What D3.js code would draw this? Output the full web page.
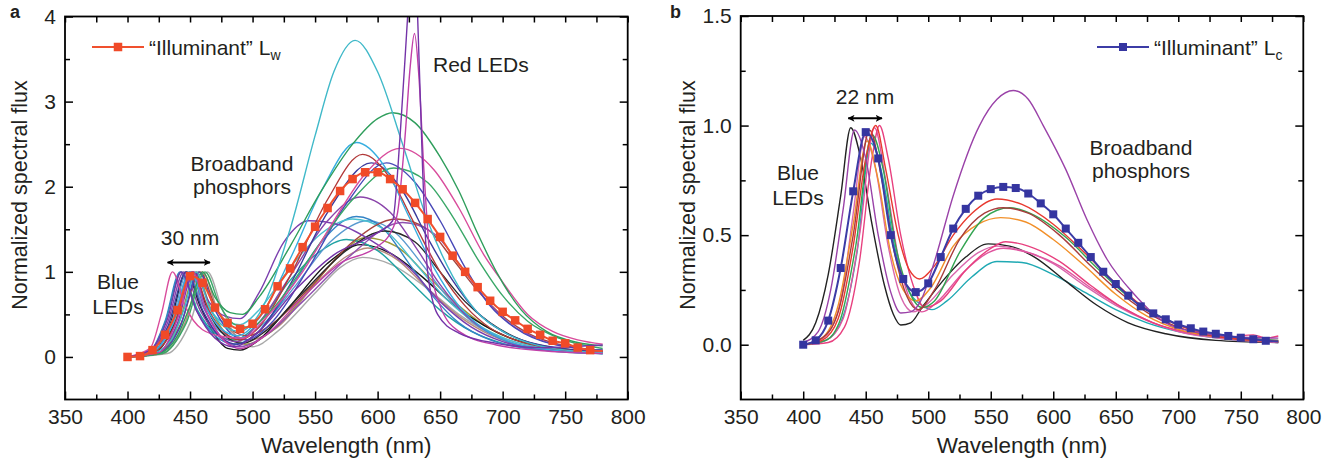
<!DOCTYPE html>
<html>
<head>
<meta charset="utf-8">
<script src="https://cdn.jsdelivr.net/npm/d3@7"></script>
<style>
body { margin: 0; background: #fff; }
text { font-family: "Liberation Sans", Arial, sans-serif; fill: #231f20; }
</style>
</head>
<body>
<svg width="1334" height="461"></svg>
<script>
// ---- data: [wavelength nm, normalized flux] ----
const xTicks = [350, 400, 450, 500, 550, 600, 650, 700, 750, 800];
const yTicksA = [0, 1, 2, 3, 4];
const yTicksB = [0, 0.5, 1.0, 1.5];

const illumWavelengths = [400,410,420,430,440,450,460,470,480,490,500,510,520,530,540,550,560,570,580,590,600,610,620,630,640,650,660,670,680,690,700,710,720,730,740,750,760,770,780];
const lwFlux = [0,0.01,0.08,0.26,0.55,0.95,0.87,0.58,0.40,0.33,0.39,0.56,0.83,1.04,1.29,1.53,1.75,1.95,2.09,2.17,2.17,2.09,1.97,1.81,1.62,1.41,1.19,1.00,0.82,0.66,0.53,0.43,0.33,0.26,0.19,0.16,0.11,0.08,0.07];
const lcFlux = [0,0.02,0.11,0.35,0.70,0.97,0.85,0.50,0.30,0.24,0.28,0.40,0.53,0.62,0.68,0.71,0.72,0.715,0.69,0.645,0.595,0.53,0.465,0.40,0.333,0.277,0.224,0.175,0.143,0.116,0.092,0.075,0.06,0.05,0.04,0.032,0.025,0.018,0.015];

// panel a, individual LEDs
const aCyanTall = [[400,0],[420,0.04],[435,0.2],[445,0.55],[455,1.0],[465,0.6],[478,0.35],[490,0.3],[505,0.5],[530,1.5],[550,2.6],[565,3.35],[582,3.72],[600,3.35],[620,2.5],[640,1.6],[660,0.95],[680,0.52],[700,0.3],[740,0.1],[780,0.05]];
const aGreenTop = [[400,0],[425,0.04],[440,0.25],[450,0.6],[460,1.0],[470,0.7],[482,0.52],[492,0.5],[505,0.7],[530,1.3],[555,1.95],[580,2.5],[600,2.8],[612,2.87],[630,2.75],[650,2.35],[665,1.95],[680,1.45],[695,1.0],[715,0.55],[735,0.3],[760,0.17],[780,0.13]];
const aPink = [[400,0],[418,0.1],[427,0.5],[436,1.0],[446,0.6],[460,0.32],[476,0.24],[492,0.22],[510,0.45],[540,1.0],[565,1.6],[590,2.15],[618,2.45],[645,2.2],[665,1.75],[685,1.2],[700,0.88],[720,0.5],[740,0.3],[760,0.2],[780,0.15]];
const aCyan2 = [[400,0],[420,0.06],[435,0.35],[450,1.0],[462,0.6],[475,0.33],[488,0.25],[505,0.45],[530,1.15],[555,1.95],[583,2.52],[605,2.25],[625,1.65],[645,1.05],[665,0.6],[685,0.33],[705,0.18],[740,0.08],[780,0.04]];
const aDarkRed = [[400,0],[420,0.05],[437,0.35],[452,1.0],[465,0.55],[478,0.28],[490,0.2],[505,0.35],[530,0.95],[560,1.85],[588,2.38],[610,2.1],[630,1.55],[650,1.0],[670,0.6],[690,0.34],[710,0.2],[745,0.09],[780,0.05]];
const aNavy = [[400,0],[418,0.05],[432,0.35],[447,1.0],[460,0.55],[475,0.22],[488,0.15],[505,0.3],[530,0.85],[560,1.7],[595,2.28],[620,1.95],[640,1.4],[660,0.9],[680,0.52],[700,0.3],[730,0.14],[780,0.06]];
const aNavy2 = [[400,0],[425,0.04],[442,0.35],[457,1.0],[470,0.55],[483,0.27],[495,0.2],[515,0.4],[545,1.05],[575,1.8],[607,2.28],[630,2.05],[650,1.6],[670,1.05],[690,0.6],[710,0.34],[740,0.15],[780,0.08]];
const aGreen2 = [[400,0],[428,0.04],[447,0.4],[462,1.0],[474,0.6],[486,0.38],[497,0.35],[515,0.55],[545,1.15],[580,1.85],[613,2.22],[640,2.05],[660,1.65],[680,1.15],[700,0.72],[720,0.42],[745,0.22],[780,0.1]];
const aPurpleMid = [[400,0],[418,0.06],[432,0.4],[445,1.0],[458,0.55],[472,0.27],[487,0.18],[505,0.4],[530,0.95],[560,1.6],[586,1.88],[610,1.7],[630,1.3],[650,0.85],[670,0.5],[690,0.28],[720,0.12],[780,0.05]];
const aPurpleEarly = [[400,0],[425,0.05],[440,0.4],[453,1.0],[465,0.65],[478,0.48],[490,0.45],[505,0.75],[525,1.35],[545,1.6],[570,1.55],[600,1.32],[625,1.05],[650,0.65],[675,0.35],[700,0.18],[740,0.08],[780,0.05]];
const aPurpleRed = [[400,0],[418,0.08],[432,0.45],[443,1.0],[455,0.55],[470,0.22],[485,0.12],[505,0.3],[535,0.8],[565,1.2],[595,1.42],[612,1.6],[618,2.6],[624,4.0],[628,4.9],[632,4.0],[636,2.2],[640,1.0],[648,0.5],[665,0.28],[695,0.16],[730,0.11],[780,0.14]];
const aMagentaRed = [[400,0],[425,0.05],[440,0.45],[452,1.0],[464,0.5],[478,0.18],[490,0.1],[510,0.25],[540,0.7],[570,1.1],[600,1.3],[610,1.45],[616,1.7],[622,2.6],[626,3.4],[629.5,3.8],[633,3.3],[637,2.2],[642,1.14],[650,0.6],[665,0.3],[695,0.14],[735,0.07],[780,0.04]];
const aBlue = [[400,0],[418,0.07],[430,0.42],[442,1.0],[455,0.55],[470,0.25],[486,0.15],[505,0.3],[530,0.8],[555,1.35],[583,1.65],[605,1.5],[625,1.1],[645,0.7],[665,0.4],[690,0.2],[720,0.1],[780,0.04]];
const aSteel = [[400,0],[420,0.05],[435,0.4],[448,1.0],[460,0.6],[474,0.3],[489,0.22],[508,0.38],[535,0.85],[562,1.35],[592,1.6],[615,1.45],[635,1.1],[655,0.72],[675,0.42],[700,0.2],[735,0.08],[780,0.04]];
const aWine = [[400,0],[425,0.04],[443,0.4],[458,1.0],[470,0.6],[483,0.32],[496,0.25],[515,0.38],[545,0.8],[580,1.35],[615,1.62],[640,1.5],[660,1.15],[680,0.78],[700,0.48],[720,0.28],[750,0.13],[780,0.08]];
const aPurple2 = [[400,0],[420,0.05],[436,0.4],[450,1.0],[462,0.55],[476,0.22],[490,0.12],[510,0.25],[540,0.65],[575,1.15],[620,1.58],[645,1.45],[665,1.1],[685,0.7],[705,0.4],[730,0.2],[760,0.1],[780,0.08]];
const aBlack2 = [[400,0],[422,0.05],[438,0.4],[452,1.0],[464,0.55],[478,0.25],[492,0.16],[510,0.3],[540,0.75],[575,1.25],[606,1.48],[630,1.35],[650,1.0],[670,0.65],[690,0.4],[715,0.2],[750,0.09],[780,0.06]];
const aBlack = [[400,0],[420,0.05],[434,0.38],[447,1.0],[458,0.6],[470,0.25],[480,0.1],[490,0.08],[505,0.2],[530,0.6],[560,1.1],[587,1.32],[610,1.22],[635,0.95],[660,0.62],[685,0.37],[710,0.2],[745,0.09],[780,0.05]];
const aOlive = [[400,0],[425,0.04],[441,0.4],[455,1.0],[467,0.55],[481,0.24],[495,0.15],[515,0.3],[545,0.78],[570,1.2],[590,1.4],[615,1.3],[640,0.95],[665,0.6],[690,0.33],[720,0.16],[780,0.06]];
const aGray = [[400,0],[432,0.04],[450,0.4],[464,1.0],[476,0.55],[489,0.2],[500,0.12],[520,0.3],[550,0.75],[570,1.05],[588,1.17],[612,1.08],[640,0.8],[665,0.5],[690,0.28],[720,0.14],[780,0.05]];
const aTan = [[400,0],[428,0.04],[446,0.4],[460,1.0],[472,0.55],[486,0.26],[498,0.2],[520,0.35],[550,0.85],[575,1.18],[592,1.28],[615,1.15],[640,0.8],[665,0.48],[690,0.26],[720,0.12],[780,0.04]];
const aTeal = [[400,0],[418,0.06],[430,0.4],[443,1.0],[456,0.55],[470,0.28],[485,0.2],[505,0.4],[530,0.9],[555,1.25],[575,1.38],[600,1.25],[625,0.9],[650,0.55],[675,0.3],[700,0.16],[740,0.07],[780,0.04]];
const aCyan3 = [[400,0],[422,0.05],[437,0.4],[450,1.0],[462,0.65],[475,0.42],[490,0.38],[505,0.55],[530,1.05],[555,1.45],[580,1.62],[605,1.5],[630,1.1],[655,0.68],[680,0.38],[705,0.2],[740,0.09],[780,0.05]];

const aSpectra = [aGray, aTan, aOlive, aBlack, aTeal, aSteel, aBlue, aCyan3, aWine, aPurple2, aBlack2, aPurpleEarly, aPurpleMid, aNavy, aNavy2, aDarkRed, aGreen2, aCyan2, aPink, aGreenTop, aCyanTall, aMagentaRed, aPurpleRed];
const aColors = ['#a9a9a9', '#b98b7c', '#9d9b3a', '#161616', '#20a3a3', '#5b9bd0', '#3384c6', '#49bfd0', '#a8453f', '#9050b0', '#2a2a2a', '#7b3fae', '#8a44aa', '#3c3c9e', '#4848b8', '#b23a3a', '#3aa868', '#36aee0', '#d94c9c', '#2f9e5c', '#40b9c9', '#c13fa8', '#7433a8'];

// panel b, individual LEDs
const bBlack = [[400,0.02],[410,0.1],[420,0.32],[430,0.68],[438,0.99],[446,0.85],[455,0.55],[465,0.27],[472,0.14],[478,0.09],[486,0.1],[495,0.17],[510,0.28],[530,0.4],[548,0.46],[565,0.45],[585,0.4],[610,0.29],[635,0.18],[660,0.1],[690,0.05],[730,0.02],[780,0.01]];
const bPurple = [[400,0.01],[412,0.06],[422,0.25],[432,0.62],[441,0.98],[450,0.85],[460,0.5],[470,0.24],[478,0.145],[486,0.15],[494,0.2],[505,0.38],[520,0.68],[541,1.0],[555,1.12],[568,1.16],[580,1.12],[592,1.0],[610,0.8],[627,0.57],[643,0.39],[664,0.235],[690,0.1],[717,0.055],[745,0.035],[780,0.03]];
const bRed = [[400,0],[415,0.02],[428,0.12],[440,0.45],[450,0.85],[458,1.0],[466,0.8],[476,0.5],[485,0.34],[493,0.3],[505,0.36],[520,0.5],[535,0.6],[555,0.665],[575,0.64],[600,0.55],[625,0.42],[650,0.28],[675,0.16],[700,0.09],[730,0.04],[780,0.015]];
const bWine = [[400,0],[415,0.03],[428,0.15],[440,0.5],[453,0.98],[463,0.75],[473,0.42],[483,0.22],[492,0.16],[505,0.25],[525,0.48],[545,0.6],[560,0.625],[580,0.6],[605,0.5],[630,0.36],[655,0.23],[680,0.13],[705,0.07],[740,0.03],[780,0.015]];
const bGreen = [[400,0],[418,0.02],[430,0.12],[442,0.45],[455,0.96],[464,0.8],[474,0.45],[485,0.24],[495,0.17],[505,0.2],[525,0.42],[545,0.58],[565,0.625],[585,0.59],[610,0.49],[635,0.35],[660,0.22],[685,0.13],[710,0.07],[745,0.035],[780,0.02]];
const bOrange = [[400,0],[415,0.03],[428,0.18],[440,0.55],[451,0.93],[460,0.75],[470,0.42],[480,0.25],[490,0.2],[502,0.26],[520,0.45],[540,0.55],[558,0.58],[578,0.56],[600,0.48],[625,0.36],[650,0.23],[675,0.13],[700,0.07],[740,0.03],[780,0.015]];
const bPink = [[400,0],[420,0.01],[433,0.08],[445,0.38],[455,0.85],[461,1.0],[468,0.85],[478,0.5],[488,0.27],[497,0.17],[510,0.2],[530,0.34],[550,0.44],[562,0.47],[580,0.45],[605,0.38],[630,0.27],[655,0.17],[680,0.1],[705,0.06],[740,0.035],[760,0.045],[770,0.03],[780,0.04]];
const bPink2 = [[400,0],[418,0.02],[432,0.12],[445,0.5],[457,0.99],[466,0.75],[476,0.4],[486,0.2],[495,0.15],[508,0.2],[528,0.33],[548,0.42],[560,0.44],[580,0.42],[605,0.36],[630,0.26],[655,0.17],[680,0.1],[710,0.05],[780,0.02]];
const bPink3 = [[400,0],[416,0.03],[430,0.2],[440,0.6],[449,0.95],[458,0.8],[468,0.45],[478,0.22],[488,0.15],[500,0.19],[520,0.32],[540,0.42],[555,0.45],[575,0.43],[600,0.37],[625,0.27],[650,0.18],[675,0.11],[700,0.06],[740,0.025],[780,0.01]];
const bTeal = [[400,0],[418,0.02],[430,0.1],[443,0.42],[454,0.92],[463,0.78],[473,0.45],[484,0.25],[495,0.18],[503,0.16],[515,0.2],[535,0.31],[555,0.38],[575,0.375],[600,0.32],[625,0.24],[650,0.16],[675,0.1],[700,0.06],[740,0.025],[780,0.01]];

const bSpectra = [bTeal, bBlack, bPink3, bPink2, bPink, bOrange, bGreen, bWine, bRed, bPurple];
const bColors = ['#1fa9b3', '#222222', '#d867ad', '#e0559f', '#e8407f', '#f2902a', '#33a451', '#a83c3c', '#e8392f', '#9a42a8'];

const svg = d3.select('svg');

const defs = svg.append('defs');
defs.append('marker').attr('id', 'arrow')
    .attr('viewBox', '0 0 10 10').attr('refX', 9).attr('refY', 5)
    .attr('markerWidth', 7).attr('markerHeight', 7).attr('orient', 'auto-start-reverse')
    .attr('markerUnits', 'userSpaceOnUse')
    .append('path').attr('d', 'M0,0 L10,5 L0,10 L2.5,5 z').attr('fill', '#000');

function drawPanel(o) {
    var x = d3.scaleLinear().domain([350, 800]).range(o.xr);
    var y = d3.scaleLinear().domain(o.yd).range([399.5, o.top]);
    var g = svg.append('g');

    defs.append('clipPath').attr('id', o.id + 'clip')
        .append('rect').attr('x', o.xr[0]).attr('y', o.top)
        .attr('width', o.xr[1] - o.xr[0]).attr('height', 399.5 - o.top);

    var line = d3.line().x(d => x(d[0])).y(d => y(d[1])).curve(d3.curveMonotoneX);
    var plot = g.append('g').attr('clip-path', 'url(#' + o.id + 'clip)');

    plot.selectAll('path.led')
        .data(o.spectra)
        .enter().append('path')
        .attr('class', 'led')
        .attr('d', line)
        .attr('fill', 'none')
        .attr('stroke', (d, i) => o.colors[i])
        .attr('stroke-width', 1.4);

    // "illuminant" average with square markers
    var ill = illumWavelengths.map((w, i) => [w, o.illum[i]]);
    plot.append('path').attr('d', line(ill))
        .attr('fill', 'none').attr('stroke', o.illumColor).attr('stroke-width', 2);
    plot.selectAll('rect.sq')
        .data(ill.slice(0, ill.length - 1))
        .enter().append('rect')
        .attr('class', 'sq')
        .attr('x', d => x(d[0]) - o.sq / 2)
        .attr('y', d => y(d[1]) - o.sq / 2)
        .attr('width', o.sq).attr('height', o.sq)
        .attr('fill', o.sqColor);

    // axes, ticks pointing inward on all four sides
    var minorX = d3.range(375, 800, 50);
    var minorY = o.minorY;
    var h = 399.5;
    g.append('g').attr('transform', 'translate(0,' + h + ')')
        .call(d3.axisBottom(x).tickValues(xTicks).tickSize(-8).tickPadding(10).tickFormat(d3.format('d')));
    g.append('g').attr('transform', 'translate(0,' + h + ')')
        .call(d3.axisBottom(x).tickValues(minorX).tickSize(-5).tickFormat(''));
    g.append('g').attr('transform', 'translate(0,' + o.top + ')')
        .call(d3.axisTop(x).tickValues(xTicks.concat(minorX)).tickSize(-6).tickFormat(''));
    g.append('g').attr('transform', 'translate(' + o.xr[0] + ',0)')
        .call(d3.axisLeft(y).tickValues(o.yTicks).tickSize(-8).tickPadding(9).tickFormat(o.yFormat));
    g.append('g').attr('transform', 'translate(' + o.xr[0] + ',0)')
        .call(d3.axisLeft(y).tickValues(minorY).tickSize(-5).tickFormat(''));
    g.append('g').attr('transform', 'translate(' + o.xr[1] + ',0)')
        .call(d3.axisRight(y).tickValues(o.yTicks).tickSize(-8).tickFormat(''));
    g.append('g').attr('transform', 'translate(' + o.xr[1] + ',0)')
        .call(d3.axisRight(y).tickValues(minorY).tickSize(-5).tickFormat(''));

    g.selectAll('.domain').remove();
    g.selectAll('.tick line').attr('stroke', '#000').attr('stroke-width', 1.5);
    g.selectAll('.tick text').attr('font-size', 21).attr('fill', '#231f20')
        .attr('font-family', '"Liberation Sans", Arial, sans-serif');

    g.append('rect').attr('x', o.xr[0]).attr('y', o.top)
        .attr('width', o.xr[1] - o.xr[0]).attr('height', h - o.top)
        .attr('fill', 'none').attr('stroke', '#000').attr('stroke-width', 1.8);

    // axis titles
    g.append('text').attr('x', (o.xr[0] + o.xr[1]) / 2).attr('y', 453)
        .attr('text-anchor', 'middle').attr('font-size', 22.5).text('Wavelength (nm)');
    g.append('text').attr('transform', 'translate(' + o.ylabelX + ',' + o.ylabelY + ') rotate(-90)')
        .attr('text-anchor', 'middle').attr('font-size', 21.5).text('Normalized spectral flux');
    g.append('text').attr('x', o.letterX).attr('y', 18)
        .attr('font-size', 18).attr('font-weight', 'bold').text(o.id);

    // legend
    var lg = g.append('g').attr('transform', 'translate(' + o.legend[0] + ',' + o.legend[1] + ')');
    lg.append('line').attr('x1', 0).attr('x2', 52).attr('y1', 0).attr('y2', 0)
        .attr('stroke', o.illumColor).attr('stroke-width', 2);
    lg.append('rect').attr('x', 26 - o.sq / 2).attr('y', -o.sq / 2)
        .attr('width', o.sq).attr('height', o.sq).attr('fill', o.sqColor);
    var lt = lg.append('text').attr('x', 57).attr('y', 7.5).attr('font-size', 21);
    lt.append('tspan').text('\u201cIlluminant\u201d L');
    lt.append('tspan').attr('font-size', 14).attr('dy', 5).text(o.sub);

    // annotations
    o.notes.forEach(function(n) {
        g.append('text').attr('x', n[0]).attr('y', n[1])
            .attr('text-anchor', n[3] || 'middle').attr('font-size', 21).text(n[2]);
    });
    g.append('line')
        .attr('x1', x(o.arrow[0])).attr('x2', x(o.arrow[1]))
        .attr('y1', y(o.arrow[2])).attr('y2', y(o.arrow[2]))
        .attr('stroke', '#000').attr('stroke-width', 2)
        .attr('marker-start', 'url(#arrow)').attr('marker-end', 'url(#arrow)');
}

drawPanel({
    id: 'a', xr: [65, 627.7], yd: [-0.5, 4], top: 16.5,
    yTicks: yTicksA, minorY: [0.5, 1.5, 2.5, 3.5], yFormat: d3.format('d'),
    spectra: aSpectra, colors: aColors,
    illum: lwFlux, illumColor: '#f0502e', sqColor: '#f04a28', sq: 8.5,
    ylabelX: 27, ylabelY: 195, letterX: 10, legend: [92, 47], sub: 'w',
    notes: [[118, 289, 'Blue'], [118, 314, 'LEDs'], [190, 245, '30 nm'],
            [242, 171, 'Broadband'], [242, 194, 'phosphors'], [433, 72, 'Red LEDs', 'start']],
    arrow: [432, 466, 1.11]
});

drawPanel({
    id: 'b', xr: [740.7, 1303.3], yd: [-0.25, 1.5], top: 16,
    yTicks: yTicksB, minorY: [0.25, 0.75, 1.25], yFormat: d3.format('.1f'),
    spectra: bSpectra, colors: bColors,
    illum: lcFlux, illumColor: '#3c3ca6', sqColor: '#3535a0', sq: 8,
    ylabelX: 695, ylabelY: 195, letterX: 670, legend: [1097, 47], sub: 'c',
    notes: [[798, 180, 'Blue'], [798, 205, 'LEDs'], [865, 104, '22 nm'],
            [1141, 155, 'Broadband'], [1141, 178, 'phosphors']],
    arrow: [436, 463, 1.033]
});
</script>
</body>
</html>
